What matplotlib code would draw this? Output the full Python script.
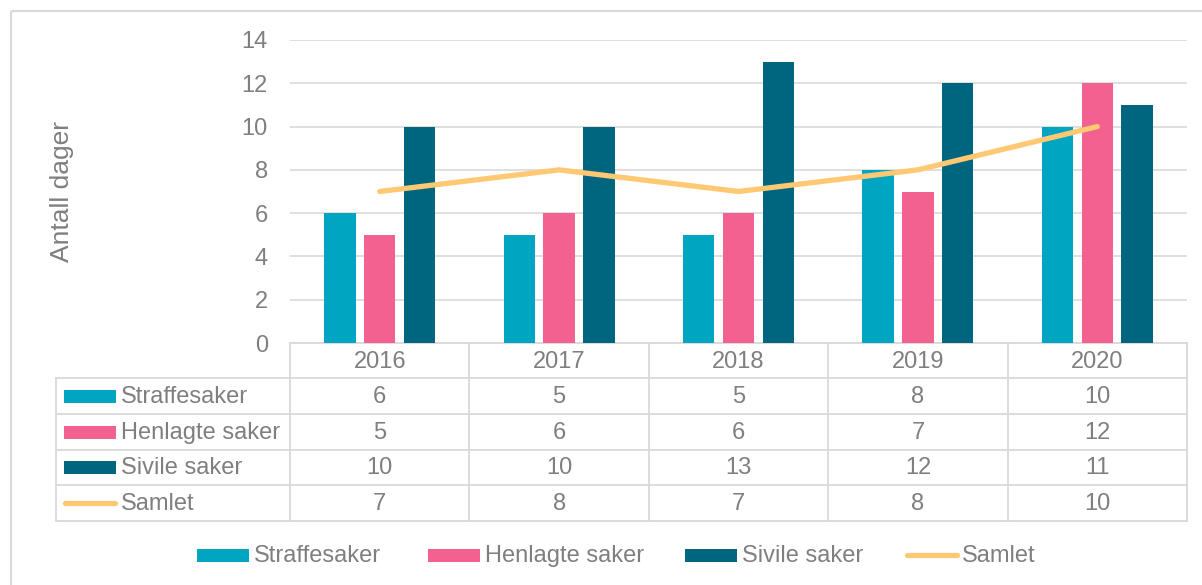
import numpy as np
import matplotlib
matplotlib.use("Agg")
import matplotlib.pyplot as plt
from matplotlib.patches import Rectangle

plt.rcParams['font.family'] = ['Liberation Sans', 'DejaVu Sans']

years = ['2016', '2017', '2018', '2019', '2020']
series = ['Straffesaker', 'Henlagte saker', 'Sivile saker', 'Samlet']
straffesaker = [6, 5, 5, 8, 10]
henlagte = [5, 6, 6, 7, 12]
sivile = [10, 10, 13, 12, 11]
samlet = [7, 8, 7, 8, 10]
yticks = [0, 2, 4, 6, 8, 10, 12, 14]

colors = ['#00A5C2', '#F36190', '#00667F', '#FFC872']
txt = '#7F7F7F'
grid = '#D9D9D9'

W, H = 1202, 585
fig = plt.figure(figsize=(W / 100, H / 100), dpi=100)

# overlay axes in pixel coordinates (table, legend, frame)
ov = fig.add_axes([0, 0, 1, 1])
ov.set_xlim(0, W)
ov.set_ylim(H, 0)
ov.axis('off')

x0, x1 = 290, 1187
ytop, ybot = 40, 343
ax = fig.add_axes([x0 / W, 1 - ybot / H, (x1 - x0) / W, (ybot - ytop) / H])
ax.set_zorder(2)
ax.patch.set_alpha(0)

x = np.arange(len(years))
bw = 0.175
off = 0.222
for i, vals in enumerate([straffesaker, henlagte, sivile]):
    ax.bar(x + (i - 1) * off, vals, width=bw, color=colors[i], zorder=3)
ax.plot(x, samlet, color=colors[3], lw=3.8, solid_capstyle='round', zorder=4)

ax.set_xlim(-0.5, len(years) - 0.5)
ax.set_ylim(0, 14)
ax.set_yticks(yticks)
ax.set_yticklabels([str(t) for t in yticks], fontsize=17, color=txt)
ax.set_xticks([])
ax.tick_params(axis='y', length=0, pad=16)
ax.grid(axis='y', color=grid, lw=1.2, zorder=0)
for s in ax.spines.values():
    s.set_visible(False)
ax.set_ylabel('Antall dager', fontsize=19, color=txt)
ax.yaxis.set_label_coords(-(x0 - 74) / (x1 - x0), 0.5)

# outer frame
ov.add_patch(Rectangle((11, 11), W, H, fill=False, ec='#D9D9D9', lw=1.5))

# data table
cw = (x1 - x0) / len(years)
rows = [343, 378, 414, 450, 485, 521]
tl = 56
lc = grid
tlw = 1.3
ov.plot([x0, x1], [rows[0], rows[0]], color=lc, lw=tlw)
for k in range(len(years) + 1):
    ov.plot([x0 + k * cw] * 2, [rows[0], rows[-1]], color=lc, lw=tlw)
for r in rows[1:]:
    ov.plot([tl, x1], [r, r], color=lc, lw=tlw)
ov.plot([tl, tl], [rows[1], rows[-1]], color=lc, lw=tlw)
for k, yr in enumerate(years):
    ov.text(x0 + (k + 0.5) * cw, (rows[0] + rows[1]) / 2 + 1, yr, ha='center', va='center',
            fontsize=17, color=txt)
table_vals = [straffesaker, henlagte, sivile, samlet]
for j, name in enumerate(series):
    yc = (rows[j + 1] + rows[j + 2]) / 2
    if j < 3:
        ov.add_patch(Rectangle((64, yc - 6.5), 52, 13, color=colors[j], lw=0))
    else:
        ov.plot([65, 115], [yc, yc], color=colors[j], lw=3.8, solid_capstyle='round')
    ov.text(121, yc + 1, name, ha='left', va='center', fontsize=17, color=txt)
    for k, v in enumerate(table_vals[j]):
        ov.text(x0 + (k + 0.5) * cw, yc + 1, str(v), ha='center', va='center',
                fontsize=17, color=txt)

# bottom legend
ly = 555
lx = [197, 428, 685, 905]
for j, name in enumerate(series):
    if j < 3:
        ov.add_patch(Rectangle((lx[j], ly - 6.5), 52, 13, color=colors[j], lw=0))
    else:
        ov.plot([lx[j] + 2, lx[j] + 52], [ly, ly], color=colors[j], lw=3.8, solid_capstyle='round')
    ov.text(lx[j] + 57, ly + 1, name, ha='left', va='center', fontsize=17, color=txt)

fig.savefig('out.png', dpi=100)
